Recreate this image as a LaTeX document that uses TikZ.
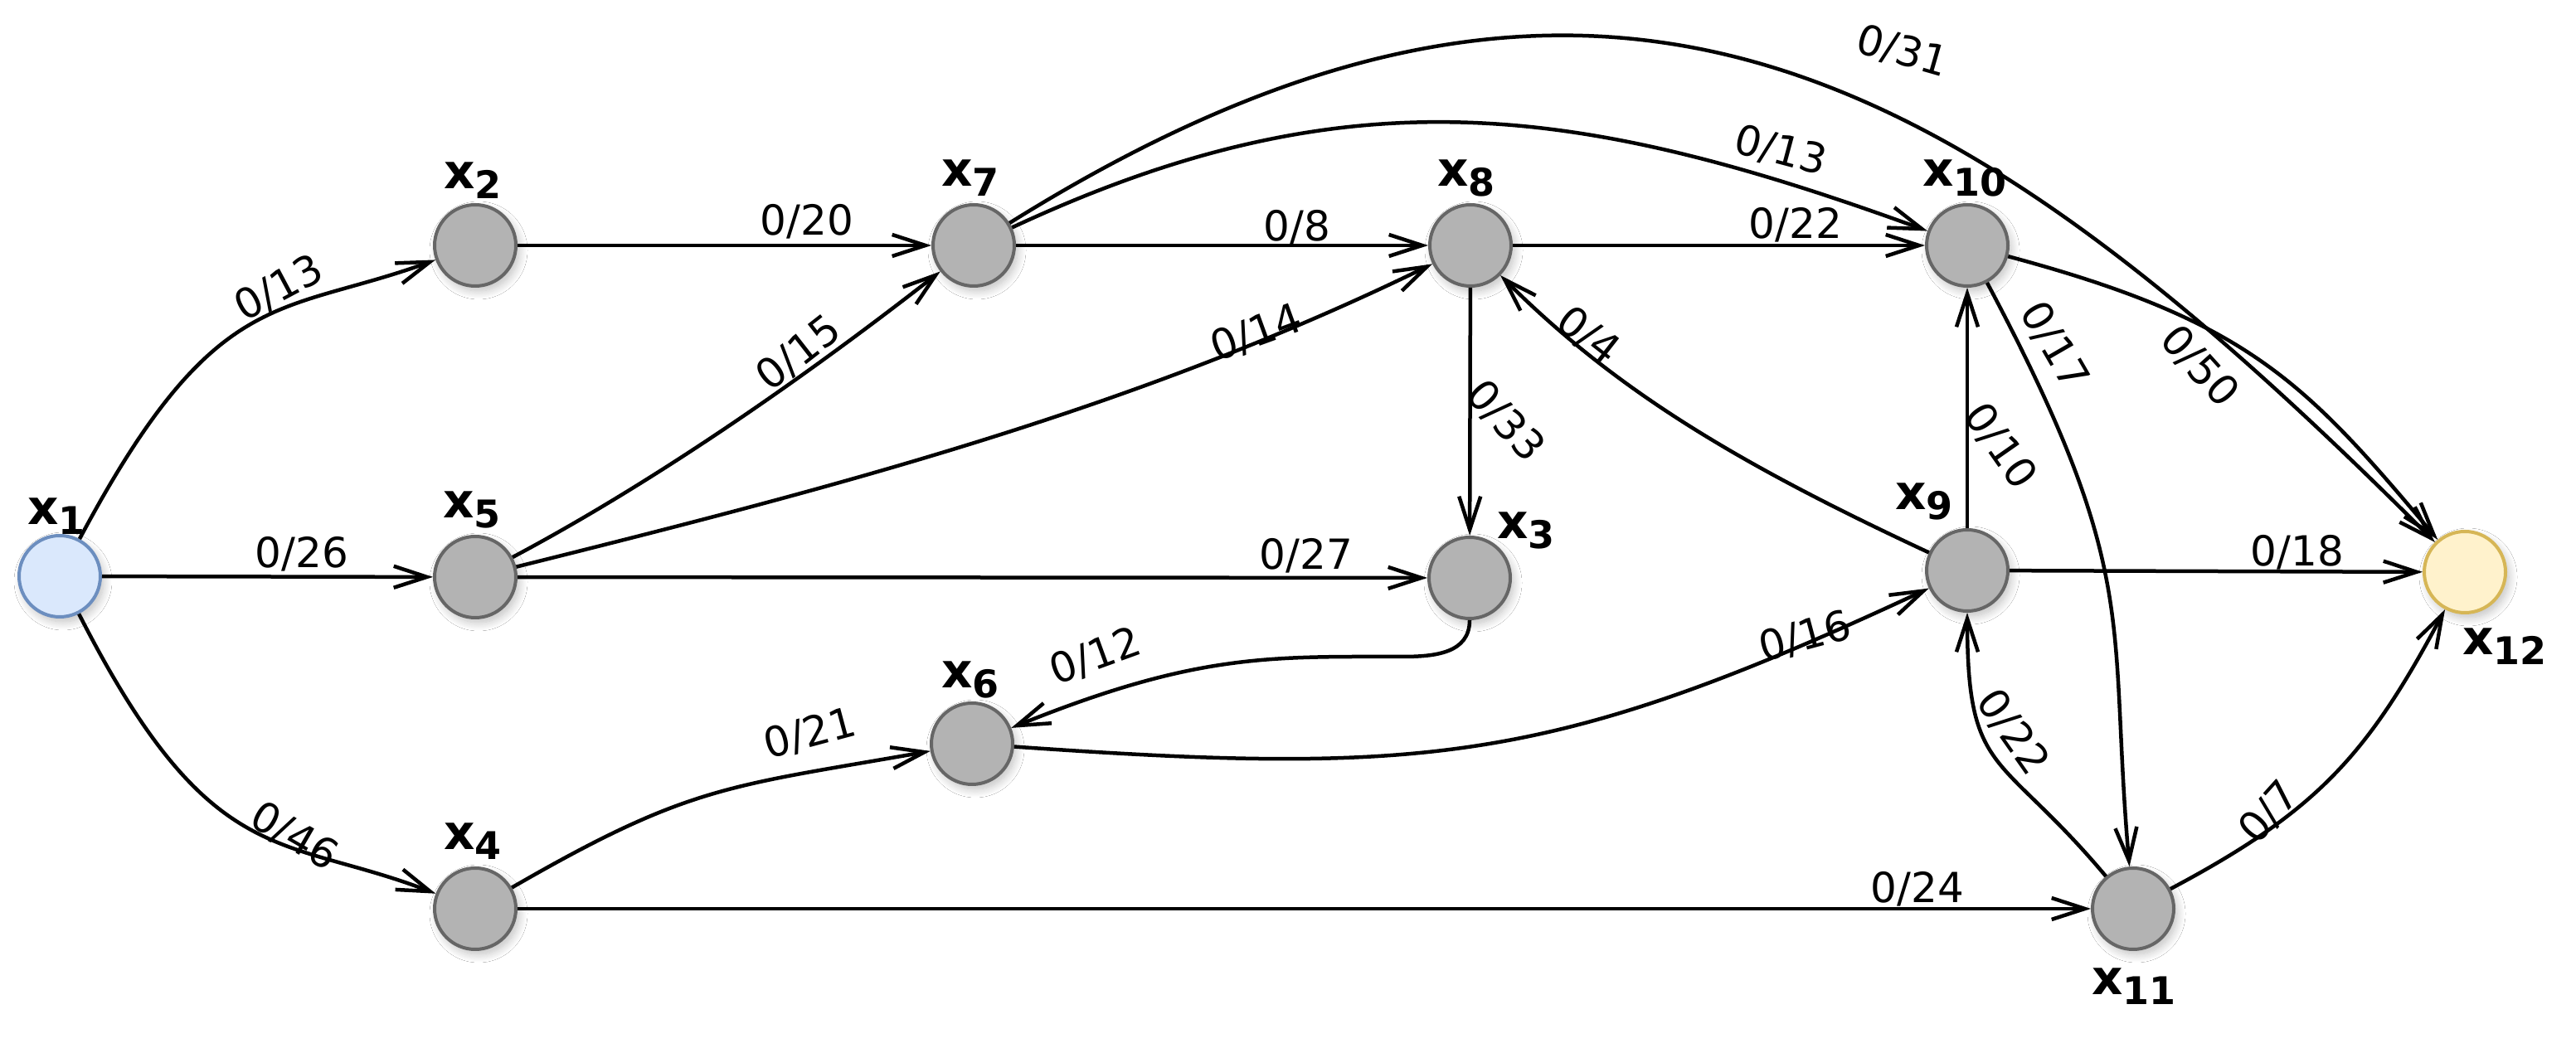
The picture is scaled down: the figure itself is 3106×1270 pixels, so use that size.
\documentclass[tikz,border=0pt]{standalone}
\usepackage{fontspec}
\setmainfont{DejaVu Sans}
\usetikzlibrary{arrows.meta,shadows.blur}
\definecolor{nfill}{HTML}{B3B3B3}
\definecolor{ndraw}{HTML}{666666}
\definecolor{bfill}{HTML}{DAE8FC}
\definecolor{bdraw}{HTML}{6C8EBF}
\definecolor{yfill}{HTML}{FFF2CC}
\definecolor{ydraw}{HTML}{D6B656}
\newcommand{\xlab}[1]{{\fontsize{14.5}{14.5}\selectfont\bfseries x}{\fontsize{11.5}{11.5}\selectfont\bfseries\raisebox{-3pt}{#1}}}
\begin{document}
\begin{tikzpicture}[x=0.25pt,y=0.25pt,
  vtx/.style={circle, draw=ndraw, fill=nfill, line width=1pt, minimum size=24.5pt, inner sep=0pt,
    blur shadow={shadow xshift=1pt, shadow yshift=-1.5pt, shadow opacity=25, shadow blur radius=2.5pt, shadow blur steps=12}},
  src/.style={vtx, draw=bdraw, fill=bfill},
  snk/.style={vtx, draw=ydraw, fill=yfill},
  vlab/.style={inner sep=0pt},
  elab/.style={inner sep=0pt, font=\fontsize{12.5}{12.5}\selectfont},
  arr/.style={line width=1.125pt, -{Straight Barb[length=10pt,width=6.5pt]}},
]
\useasboundingbox (0,0) rectangle (3106,-1270);
\fill[white] (0,0) rectangle (3106,-1270);

% vertices
\node[src] (x1) at (72,-695) {};
\node[vtx] (x2) at (573,-296) {};
\node[vtx] (x7) at (1174,-296) {};
\node[vtx] (x8) at (1773,-296) {};
\node[vtx] (x10) at (2372,-296) {};
\node[vtx] (x5) at (573,-696) {};
\node[vtx] (x3) at (1772,-697) {};
\node[vtx] (x9) at (2372,-688) {};
\node[snk] (x12) at (2972,-690) {};
\node[vtx] (x6) at (1172,-897) {};
\node[vtx] (x4) at (573,-1096) {};
\node[vtx] (x11) at (2572,-1096) {};
\coordinate (w1) at (1690,-792);

% vertex labels
\node[vlab] (l1) at (68,-623) {\xlab{1}};
\node[vlab] (l2) at (570,-218) {\xlab{2}};
\node[vlab] (l7) at (1170,-215) {\xlab{7}};
\node[vlab] (l8) at (1768,-215) {\xlab{8}};
\node[vlab] (l10) at (2369,-215) {\xlab{10}};
\node[vlab] (l5) at (569,-615) {\xlab{5}};
\node[vlab] (l9) at (2320,-605) {\xlab{9}};
\node[vlab] (l3) at (1840,-640) {\xlab{3}};
\node[vlab] (l6) at (1170,-820) {\xlab{6}};
\node[vlab] (l4) at (570,-1015) {\xlab{4}};
\node[vlab] (l11) at (2573,-1190) {\xlab{11}};
\node[vlab] (l12) at (3020,-780) {\xlab{12}};

% edges
\draw[arr] (x1) to[out=62,in=200,out distance=87.5pt,in distance=50pt] (x2);
\draw[arr] (x1) -- (x5);
\draw[arr] (x1) to[out=-63,in=159,out distance=87.5pt,in distance=50pt] (x4);
\draw[arr] (x2) -- (x7);
\draw[arr] (x5) to[out=28,in=218,out distance=50pt,in distance=50pt] (x7);
\draw[arr] (x5) to[out=14,in=206,out distance=100pt,in distance=100pt] (x8);
\draw[arr] (x5) -- (x3);
\draw[arr] (x7) -- (x8);
\draw[arr] (x7) to[out=25,in=160,out distance=112pt,in distance=112pt] (x10);
\draw[arr] (x7) to[out=32,in=135,out distance=212pt,in distance=200pt] (x12);
\draw[arr] (x8) -- (x10);
\draw[arr] (x8) -- (x3);
\draw[arr] (x9) to[out=155,in=-45,out distance=62pt,in distance=50pt] (x8);
\draw[arr] (x3) to[out=-90,in=0,out distance=10pt,in distance=10pt] (w1)
  to[out=180,in=22,out distance=40pt,in distance=60pt] (x6);
\draw[arr] (x6) to[out=-4,in=205,out distance=125pt,in distance=125pt] (x9);
\draw[arr] (x4) to[out=30,in=190,out distance=62pt,in distance=62pt] (x6);
\draw[arr] (x4) -- (x11);
\draw[arr] (x9) -- (x10);
\draw[arr] (x10) to[out=-62,in=95,out distance=100pt,in distance=75pt] (x11);
\draw[arr] (x11) to[out=130,in=-90,out distance=50pt,in distance=50pt] (x9);
\draw[arr] (x10) to[out=-15,in=130,out distance=75pt,in distance=62pt] (x12);
\draw[arr] (x9) -- (x12);
\draw[arr] (x11) to[out=28,in=242,out distance=50pt,in distance=50pt] (x12);

% edge labels
\node[elab,rotate=28] (e1) at (336,-348) {0/13};
\node[elab] (e2) at (364,-668) {0/26};
\node[elab,rotate=-30] (e3) at (355,-1009) {0/46};
\node[elab] (e4) at (973,-267) {0/20};
\node[elab,rotate=38] (e5) at (963,-426) {0/15};
\node[elab,rotate=20] (e6) at (1515,-402) {0/14};
\node[elab] (e7) at (1575,-670) {0/27};
\node[elab] (e8) at (1564,-274) {0/8};
\node[elab,rotate=-15] (e9) at (2147,-182) {0/13};
\node[elab,rotate=-16] (e10) at (2294,-62) {0/31};
\node[elab] (e11) at (2165,-271) {0/22};
\node[elab,rotate=-48] (e12) at (1815,-508) {0/33};
\node[elab,rotate=-38] (e13) at (1915,-405) {0/4};
\node[elab,rotate=20] (e14) at (1321,-792) {0/12};
\node[elab,rotate=15] (e15) at (2177,-768) {0/16};
\node[elab,rotate=15] (e16) at (977,-885) {0/21};
\node[elab] (e17) at (2312,-1072) {0/24};
\node[elab,rotate=-55] (e18) at (2412,-538) {0/10};
\node[elab,rotate=-60] (e19) at (2477,-417) {0/17};
\node[elab,rotate=-55] (e20) at (2427,-883) {0/22};
\node[elab,rotate=-48] (e21) at (2652,-442) {0/50};
\node[elab] (e22) at (2770,-666) {0/18};
\node[elab,rotate=48] (e23) at (2736,-980) {0/7};
\end{tikzpicture}
\end{document}
